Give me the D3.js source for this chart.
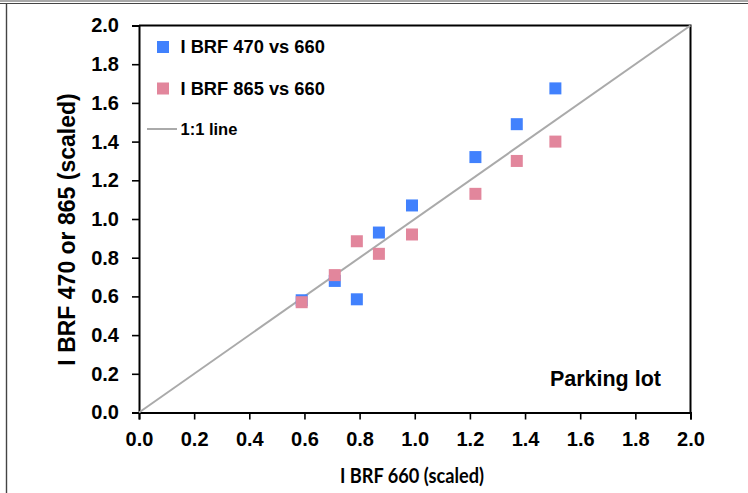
<!DOCTYPE html>
<html>
<head>
<meta charset="utf-8">
<script src="https://cdn.jsdelivr.net/npm/d3@7"></script>
<style>
  html, body { margin: 0; padding: 0; background: #fff; }
  svg { display: block; }
</style>
</head>
<body>
<div id="chart"></div>
<script>
// valores
const brf660 = [0.59, 0.71, 0.79, 0.87, 0.99, 1.22, 1.37, 1.51];
const brf470 = [0.58, 0.68, 0.585, 0.93, 1.07, 1.32, 1.49, 1.675];
const brf865 = [0.57, 0.71, 0.885, 0.82, 0.92, 1.13, 1.30, 1.40];
const tickValues = [0, 0.2, 0.4, 0.6, 0.8, 1.0, 1.2, 1.4, 1.6, 1.8, 2.0];
const seriesNames = ['I BRF 470 vs 660', 'I BRF 865 vs 660', '1:1 line'];
const seriesColors = ['#4181fd', '#e2869c', '#aaaaaa'];

const width = 748, height = 493;
const svg = d3.select('#chart').append('svg')
  .attr('width', width)
  .attr('height', height);

// marco del documento
svg.append('line').attr('x1', 0).attr('x2', width).attr('y1', 1).attr('y2', 1)
  .style('stroke', '#555').style('stroke-width', 1.2);
svg.append('line').attr('x1', 0).attr('x2', width).attr('y1', 3.5).attr('y2', 3.5)
  .style('stroke', '#444').style('stroke-width', 1.2);
svg.append('line').attr('x1', 6.5).attr('x2', 6.5).attr('y1', 4).attr('y2', height)
  .style('stroke', '#444').style('stroke-width', 1.4);

// escalas
const x = d3.scaleLinear().domain([0, 2]).range([139, 690.5]);
const y = d3.scaleLinear().domain([0, 2]).range([412.5, 25.5]);

const fmt = d3.format('.1f');

// ejes
const gx = svg.append('g')
  .attr('transform', `translate(0,${y(0)})`)
  .call(d3.axisBottom(x).tickValues(tickValues).tickFormat(fmt).tickSize(7).tickPadding(12));
const gy = svg.append('g')
  .attr('transform', `translate(${x(0)},0)`)
  .call(d3.axisLeft(y).tickValues(tickValues).tickFormat(fmt).tickSize(7).tickPadding(13));

[gx, gy].forEach(g => {
  g.select('.domain').style('stroke', '#000').style('stroke-width', 2);
  g.selectAll('.tick line').style('stroke', '#000').style('stroke-width', 1.6);
  g.selectAll('.tick text')
    .style('font-family', 'Liberation Sans, Arial, sans-serif')
    .style('font-weight', 'bold')
    .style('font-size', '20px')
    .style('fill', '#000');
});

// lados superior y derecho del recuadro
svg.append('path')
  .attr('d', `M${x(0)},${y(2)}H${x(2)}V${y(0)}`)
  .style('fill', 'none')
  .style('stroke', '#000')
  .style('stroke-width', 2);

// línea 1:1
svg.append('line')
  .attr('x1', x(0)).attr('y1', y(0))
  .attr('x2', x(2)).attr('y2', y(2))
  .style('stroke', seriesColors[2])
  .style('stroke-width', 2);

// puntos
const size = 12;
function drawSeries(values, color) {
  svg.append('g').selectAll('rect')
    .data(brf660.map((v, i) => [v, values[i]]))
    .enter().append('rect')
    .attr('x', d => x(d[0]) - size / 2)
    .attr('y', d => y(d[1]) - size / 2)
    .attr('width', size)
    .attr('height', size)
    .style('fill', color);
}
drawSeries(brf470, seriesColors[0]);
drawSeries(brf865, seriesColors[1]);

// leyenda
const legend = svg.append('g').attr('transform', 'translate(163,47)');
const legendFont = g => g
  .style('font-family', 'Liberation Sans, Arial, sans-serif')
  .style('font-weight', 'bold')
  .style('font-size', '18.3px')
  .style('fill', '#000');

[0, 1].forEach(i => {
  legend.append('rect')
    .attr('x', -6).attr('y', i * 41.5 - 6)
    .attr('width', 12).attr('height', 12)
    .style('fill', seriesColors[i]);
  legend.append('text')
    .attr('x', 17.5).attr('y', i * 41.5)
    .attr('dy', '0.35em')
    .text(seriesNames[i])
    .call(legendFont);
});
legend.append('line')
  .attr('x1', -16).attr('x2', 14)
  .attr('y1', 82).attr('y2', 82)
  .style('stroke', seriesColors[2]).style('stroke-width', 2);
legend.append('text')
  .attr('x', 17.5).attr('y', 82)
  .attr('dy', '0.35em')
  .text(seriesNames[2])
  .call(legendFont)
  .style('font-size', '16.5px');

// rótulo del sitio
svg.append('text')
  .attr('x', 661).attr('y', 386)
  .attr('text-anchor', 'end')
  .text('Parking lot')
  .style('font-family', 'Liberation Sans, Arial, sans-serif')
  .style('font-weight', 'bold')
  .style('font-size', '21.5px');

// títulos de ejes
svg.append('text')
  .attr('x', 340).attr('y', 483)
  .attr('textLength', 144)
  .attr('lengthAdjust', 'spacingAndGlyphs')
  .text('I BRF 660 (scaled)')
  .style('font-family', 'Lato, Open Sans, sans-serif')
  .style('font-weight', 'bold')
  .style('font-size', '21px');

svg.append('text')
  .attr('transform', 'translate(75,229.5) rotate(-90)')
  .attr('text-anchor', 'middle')
  .text('I BRF 470 or 865 (scaled)')
  .style('font-family', 'Liberation Sans, Arial, sans-serif')
  .style('font-weight', 'bold')
  .style('font-size', '23px');
</script>
</body>
</html>
